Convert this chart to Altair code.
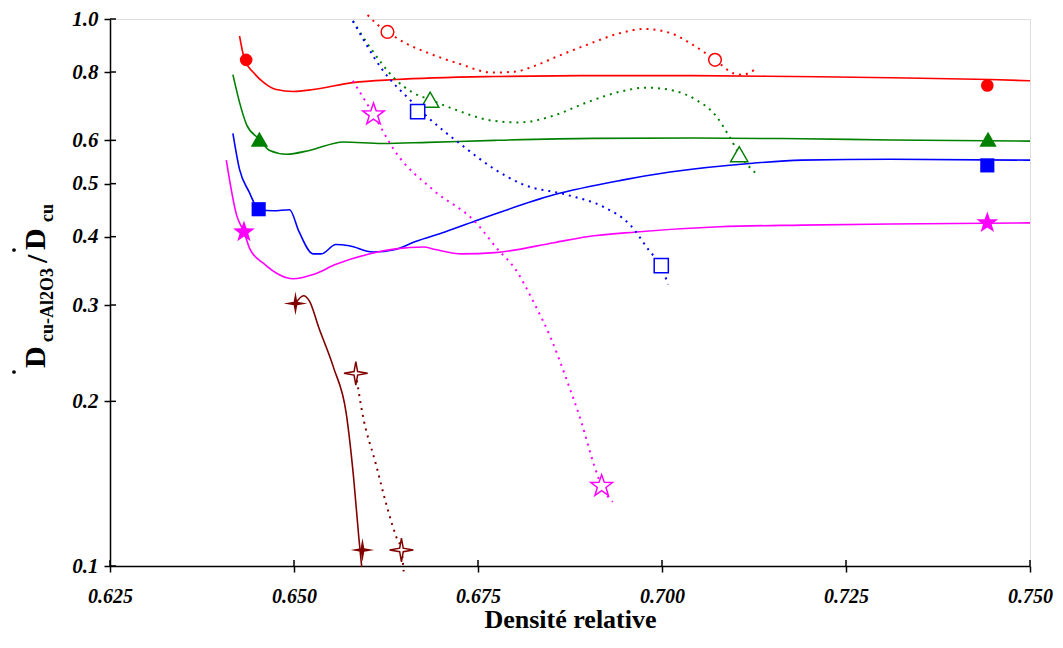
import altair as alt
import pandas as pd

FONT = "Liberation Serif"

series_names = ["rouge", "vert", "bleu", "magenta", "bordeaux"]
series_colors = ["#ff0000", "#008000", "#0000ff", "#ff00ff", "#800000"]
star5 = "M0,-1L0.235,-0.324L0.951,-0.309L0.380,0.124L0.588,0.809L0,0.4L-0.588,0.809L-0.380,0.124L-0.951,-0.309L-0.235,-0.324Z"
star4 = "M0,-1L0.15,-0.15L1,0L0.15,0.15L0,1L-0.15,0.15L-1,0L-0.15,-0.15Z"
series_shapes = ["circle", "triangle-up", "square", star5, star4]
series_sizes = [160, 300, 200, 520, 560]

x_ticks = [0.625, 0.650, 0.675, 0.700, 0.725, 0.750]
y_ticks = [0.1, 0.2, 0.3, 0.4, 0.5, 0.6, 0.8, 1.0]

# --- solid (experimental) curves
red_solid_x = [0.6426, 0.6433, 0.6445, 0.6459, 0.6476, 0.6499, 0.6526, 0.6580, 0.6638, 0.6773, 0.6907, 0.7042, 0.7177, 0.7311, 0.7446, 0.7500]
red_solid_y = [0.931, 0.842, 0.798, 0.765, 0.743, 0.737, 0.743, 0.765, 0.775, 0.785, 0.788, 0.788, 0.785, 0.781, 0.775, 0.771]
green_solid_x = [0.6417, 0.6426, 0.6436, 0.6453, 0.6467, 0.6490, 0.6521, 0.6567, 0.6620, 0.6682, 0.6773, 0.6907, 0.7042, 0.7190, 0.7311, 0.7500]
green_solid_y = [0.791, 0.704, 0.639, 0.603, 0.575, 0.566, 0.575, 0.596, 0.592, 0.595, 0.600, 0.605, 0.606, 0.604, 0.601, 0.598]
blue_solid_x = [0.6417, 0.6426, 0.6439, 0.6452, 0.6472, 0.6494, 0.6507, 0.6526, 0.6537, 0.6557, 0.6575, 0.6607, 0.6638, 0.6665, 0.6705, 0.6750, 0.6773, 0.6853, 0.6944, 0.7011, 0.7123, 0.7190, 0.7311, 0.7500]
blue_solid_y = [0.618, 0.531, 0.483, 0.449, 0.446, 0.448, 0.408, 0.372, 0.372, 0.387, 0.385, 0.375, 0.379, 0.392, 0.408, 0.429, 0.440, 0.477, 0.507, 0.525, 0.545, 0.552, 0.554, 0.552]
magenta_solid_x = [0.6408, 0.6422, 0.6432, 0.6440, 0.6459, 0.6499, 0.6526, 0.6557, 0.6602, 0.6638, 0.6676, 0.6692, 0.6728, 0.6773, 0.6853, 0.6898, 0.6965, 0.7078, 0.7190, 0.7311, 0.7500]
magenta_solid_y = [0.552, 0.438, 0.408, 0.380, 0.357, 0.335, 0.341, 0.356, 0.372, 0.380, 0.383, 0.379, 0.372, 0.374, 0.390, 0.400, 0.408, 0.417, 0.420, 0.422, 0.424]
darkred_solid_x = [0.6502, 0.6513, 0.6521, 0.6534, 0.6554, 0.6571, 0.6581, 0.6588, 0.6592]
darkred_solid_y = [0.302, 0.312, 0.305, 0.272, 0.230, 0.190, 0.145, 0.113, 0.0996]

# --- dotted (model) curves
red_dot_x = [0.6600, 0.6614, 0.6627, 0.6651, 0.6682, 0.6725, 0.6769, 0.6800, 0.6827, 0.6853, 0.6898, 0.6944, 0.6975, 0.7011, 0.7042, 0.7072, 0.7099, 0.7109, 0.7128]
red_dot_y = [1.017, 0.975, 0.947, 0.904, 0.867, 0.828, 0.798, 0.801, 0.821, 0.849, 0.897, 0.943, 0.959, 0.943, 0.897, 0.842, 0.794, 0.791, 0.811]
green_dot_x = [0.6580, 0.6602, 0.6638, 0.6661, 0.6685, 0.6719, 0.6769, 0.6806, 0.6853, 0.6898, 0.6944, 0.6979, 0.7015, 0.7046, 0.7073, 0.7092, 0.7105, 0.7127]
green_dot_y = [0.992, 0.893, 0.775, 0.734, 0.712, 0.683, 0.652, 0.647, 0.666, 0.704, 0.737, 0.749, 0.740, 0.712, 0.666, 0.608, 0.566, 0.523]
blue_dot_x = [0.6580, 0.6620, 0.6661, 0.6682, 0.6728, 0.6773, 0.6810, 0.6871, 0.6921, 0.6957, 0.6984, 0.6999, 0.7008]
blue_dot_y = [0.992, 0.808, 0.704, 0.661, 0.588, 0.531, 0.499, 0.477, 0.453, 0.420, 0.375, 0.354, 0.327]
magenta_dot_x = [0.6580, 0.6608, 0.6638, 0.6689, 0.6746, 0.6777, 0.6800, 0.6827, 0.6849, 0.6871, 0.6890, 0.6907, 0.6918, 0.6933]
magenta_dot_y = [0.771, 0.669, 0.571, 0.487, 0.426, 0.379, 0.350, 0.301, 0.261, 0.218, 0.184, 0.154, 0.140, 0.131]
darkred_dot_x = [0.6584, 0.6593, 0.6611, 0.6628, 0.6639, 0.6646, 0.6649]
darkred_dot_y = [0.225, 0.190, 0.154, 0.126, 0.113, 0.107, 0.0977]

# --- markers
filled_series = ["rouge", "rouge", "vert", "vert", "bleu", "bleu", "magenta", "magenta", "bordeaux", "bordeaux"]
filled_x = [0.6435, 0.7442, 0.6453, 0.7443, 0.6452, 0.7442, 0.6432, 0.7442, 0.6502, 0.6593]
filled_y = [0.842, 0.756, 0.603, 0.603, 0.449, 0.540, 0.408, 0.424, 0.302, 0.107]
open_series = ["rouge", "rouge", "vert", "vert", "bleu", "bleu", "magenta", "magenta", "bordeaux", "bordeaux"]
open_x = [0.6627, 0.7072, 0.6685, 0.7105, 0.6668, 0.6999, 0.6608, 0.6918, 0.6584, 0.6646]
open_y = [0.947, 0.842, 0.712, 0.566, 0.677, 0.354, 0.669, 0.140, 0.225, 0.107]

solid = [(red_solid_x, red_solid_y), (green_solid_x, green_solid_y), (blue_solid_x, blue_solid_y),
         (magenta_solid_x, magenta_solid_y), (darkred_solid_x, darkred_solid_y)]
dotted = [(red_dot_x, red_dot_y), (green_dot_x, green_dot_y), (blue_dot_x, blue_dot_y),
          (magenta_dot_x, magenta_dot_y), (darkred_dot_x, darkred_dot_y)]

rows = []
for name, (xs, ys) in zip(series_names, solid):
    for i, (a, b) in enumerate(zip(xs, ys)):
        rows.append({"x": a, "y": b, "series": name, "style": "solid", "i": i})
for name, (xs, ys) in zip(series_names, dotted):
    for i, (a, b) in enumerate(zip(xs, ys)):
        rows.append({"x": a, "y": b, "series": name, "style": "dotted", "i": i})
lines_df = pd.DataFrame(rows)
filled_df = pd.DataFrame({"x": filled_x, "y": filled_y, "series": filled_series})
open_df = pd.DataFrame({"x": open_x, "y": open_y, "series": open_series})

W, H = 920, 547

xscale = alt.Scale(domain=[0.625, 0.75], nice=False, zero=False)
yscale = alt.Scale(type="log", domain=[0.1, 1.0], nice=False)
xaxis = alt.Axis(values=x_ticks, format=".3f", title="Densité relative", grid=False, labelFlush=False,
                 labelFont=FONT, labelFontSize=20, labelFontWeight="bold", labelFontStyle="italic",
                 labelColor="black", labelPadding=14, tickSize=6, tickWidth=1.5, tickColor="black",
                 domainColor="black", domainWidth=1.5, titleFont=FONT, titleFontSize=26,
                 titleFontWeight="bold", titleColor="black", titlePadding=0)
yaxis = alt.Axis(values=y_ticks, format=".1f", title=None, grid=False, labelFlush=False,
                 labelFont=FONT, labelFontSize=21, labelFontWeight="bold", labelFontStyle="italic",
                 labelColor="black", labelPadding=6, tickSize=6, tickWidth=1.5, tickColor="black",
                 domainColor="black", domainWidth=1.5)

X = alt.X("x:Q", scale=xscale, axis=xaxis)
Y = alt.Y("y:Q", scale=yscale, axis=yaxis)
col = alt.Scale(domain=series_names, range=series_colors)
shp = alt.Scale(domain=series_names, range=series_shapes)
siz = alt.Scale(type="ordinal", domain=series_names, range=series_sizes)

base = alt.Chart(lines_df)
solid_lines = base.transform_filter(alt.datum.style == "solid").mark_line(
    strokeWidth=1.6, interpolate="monotone").encode(
    x=X, y=Y, color=alt.Color("series:N", scale=col, legend=None), order=alt.Order("i:Q"))
dotted_lines = base.transform_filter(alt.datum.style == "dotted").mark_line(
    strokeWidth=2, strokeDash=[2, 5], interpolate="monotone").encode(
    x=X, y=Y, color=alt.Color("series:N", scale=col, legend=None), order=alt.Order("i:Q"))

filled_pts = alt.Chart(filled_df).mark_point(filled=True, opacity=1, strokeWidth=0).encode(
    x=X, y=Y, fill=alt.Fill("series:N", scale=col, legend=None),
    shape=alt.Shape("series:N", scale=shp, legend=None),
    size=alt.Size("series:N", scale=siz, legend=None))
open_pts = alt.Chart(open_df).mark_point(opacity=1, strokeWidth=1.5).encode(
    x=X, y=Y, stroke=alt.Stroke("series:N", scale=col, legend=None), fill=alt.value("white"),
    shape=alt.Shape("series:N", scale=shp, legend=None),
    size=alt.Size("series:N", scale=siz, legend=None))

# inner half of the crossing ticks
xt = alt.Chart(pd.DataFrame({"x": x_ticks})).mark_rule(color="black", strokeWidth=1.5).encode(
    x=X, y=alt.value(H - 6), y2=alt.value(H))
yt = alt.Chart(pd.DataFrame({"y": y_ticks})).mark_rule(color="black", strokeWidth=1.5).encode(
    y=Y, x=alt.value(0), x2=alt.value(6))

one = pd.DataFrame({"k": [0]})
def ttext(txt, x, y, size):
    return alt.Chart(one).mark_text(text=txt, angle=270, align="left", baseline="alphabetic",
                                    font=FONT, fontSize=size, fontWeight="bold", color="black").encode(
        x=alt.value(x), y=alt.value(y))

title_parts = [
    ttext("D", -65, 349, 30),
    ttext("cu-Al2O3", -57, 323, 18),
    ttext("/", -63, 244, 30),
    ttext("D", -65, 231, 30),
    ttext("cu", -57, 203, 18),
]
dot1 = alt.Chart(one).mark_circle(size=14, color="black", opacity=1).encode(
    x=alt.value(-96), y=alt.value(353))
dot2 = alt.Chart(one).mark_circle(size=14, color="black", opacity=1).encode(
    x=alt.value(-96), y=alt.value(231))

chart = alt.layer(solid_lines, dotted_lines, xt, yt, filled_pts, open_pts, *title_parts, dot1, dot2).properties(
    width=W, height=H, autosize="none",
    padding={"left": 102, "top": 11, "right": 25, "bottom": 68},
).configure_view(stroke=None).configure(background="white")

chart.save("out.html", embed_options={"renderer": "svg", "actions": False})
